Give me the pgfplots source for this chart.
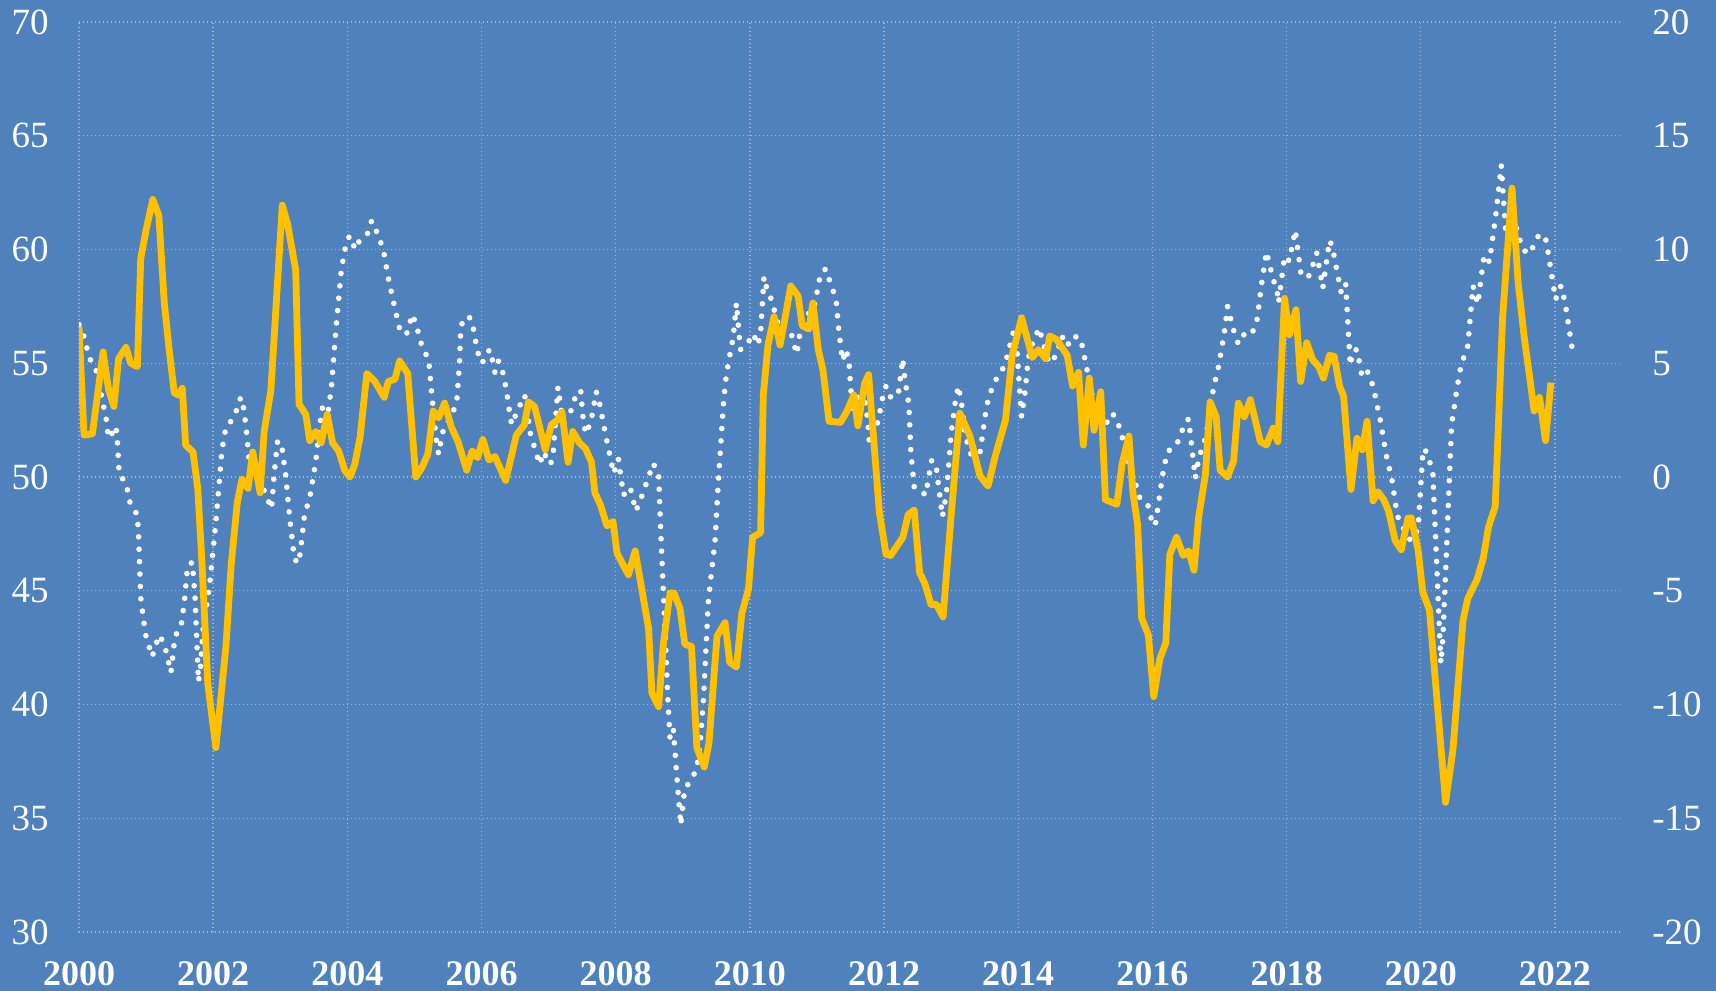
\documentclass[border=0pt]{standalone}
\usepackage{fontspec}
\setmainfont{Liberation Serif}
\usepackage{pgfplots}
\pgfplotsset{compat=1.18}
\usepackage{pgfplotstable}
\definecolor{bgblue}{RGB}{79,129,189}
\definecolor{gold}{RGB}{255,192,0}
\definecolor{gridc}{RGB}{175,180,192}

\pgfplotstableread{
x y
2000.00 56.7
2000.07 56.2
2000.16 55.2
2000.25 54.75
2000.32 53.8
2000.35 53.3
2000.40 52.7
2000.43 51.95
2000.47 51.7
2000.52 52.2
2000.55 52.2
2000.57 51.7
2000.60 50.1
2000.70 49.75
2000.77 48.75
2000.87 48.35
2000.89 47.3
2000.92 44.7
2000.99 43.1
2001.09 42.1
2001.14 42.55
2001.19 43.05
2001.27 42.7
2001.37 41.4
2001.39 41.9
2001.43 43.0
2001.52 43.4
2001.57 44.5
2001.62 46.1
2001.69 46.25
2001.73 44.7
2001.78 41.0
2001.81 41.6
2001.85 43.3
2001.95 45.35
2002.04 48.0
2002.13 51.15
2002.19 52.2
2002.28 52.5
2002.35 52.95
2002.41 53.5
2002.44 53.3
2002.49 52.2
2002.54 50.6
2002.64 50.0
2002.76 49.4
2002.87 48.6
2002.91 50.15
2002.96 51.6
2003.03 51.2
2003.08 50.1
2003.13 48.5
2003.21 46.4
2003.27 46.2
2003.30 46.7
2003.36 48.3
2003.44 49.1
2003.53 50.7
2003.59 52.3
2003.63 53.05
2003.71 52.8
2003.76 53.85
2003.83 56.5
2003.91 59.1
2003.97 60.1
2004.03 60.6
2004.12 60.0
2004.19 60.45
2004.30 60.7
2004.36 61.25
2004.41 61.1
2004.45 60.6
2004.53 60.1
2004.62 58.6
2004.74 57.0
2004.78 56.5
2004.88 56.25
2004.97 57.15
2005.03 56.65
2005.12 55.65
2005.21 55.2
2005.26 53.6
2005.33 51.5
2005.36 51.0
2005.40 51.65
2005.44 52.2
2005.55 52.65
2005.63 53.3
2005.67 54.9
2005.69 56.5
2005.73 57.0
2005.83 57.0
2005.88 56.5
2005.94 55.5
2006.01 55.0
2006.09 55.5
2006.13 55.6
2006.20 54.6
2006.25 55.1
2006.30 54.85
2006.37 53.85
2006.42 52.8
2006.45 52.3
2006.52 52.8
2006.64 53.6
2006.67 53.3
2006.72 52.0
2006.82 51.0
2006.87 50.55
2006.92 51.1
2007.03 50.55
2007.07 51.1
2007.12 53.2
2007.14 53.95
2007.19 52.9
2007.32 52.8
2007.43 53.8
2007.48 53.75
2007.51 52.7
2007.55 51.9
2007.63 52.4
2007.71 53.75
2007.76 53.25
2007.86 51.7
2007.91 51.0
2007.97 50.15
2008.04 50.8
2008.09 49.75
2008.12 49.2
2008.16 49.5
2008.22 49.5
2008.30 48.5
2008.37 49.0
2008.49 50.0
2008.56 50.6
2008.64 50.1
2008.68 47.0
2008.72 44.3
2008.78 40.1
2008.81 38.5
2008.86 38.9
2008.92 36.5
2008.97 34.7
2009.01 35.8
2009.03 36.3
2009.13 36.7
2009.21 37.2
2009.26 38.3
2009.31 40.3
2009.38 44.5
2009.42 45.6
2009.48 47.15
2009.53 49.8
2009.61 53.4
2009.65 54.5
2009.71 55.5
2009.75 56.1
2009.80 57.65
2009.83 56.6
2009.86 55.6
2009.95 55.8
2010.05 56.3
2010.12 55.8
2010.16 56.3
2010.21 58.8
2010.25 58.3
2010.32 57.8
2010.39 57.05
2010.45 56.4
2010.61 56.4
2010.65 55.9
2010.70 55.4
2010.74 56.2
2010.82 56.65
2010.88 57.2
2010.94 57.25
2011.02 58.4
2011.05 58.9
2011.13 59.15
2011.18 58.7
2011.24 58.2
2011.29 57.65
2011.32 56.6
2011.38 55.1
2011.44 55.6
2011.48 54.9
2011.53 52.85
2011.60 53.5
2011.71 53.5
2011.76 52.4
2011.78 51.5
2011.85 51.9
2011.91 52.45
2011.98 53.5
2012.03 54.0
2012.10 53.5
2012.21 53.6
2012.28 55.2
2012.31 54.3
2012.37 53.2
2012.40 51.1
2012.45 49.55
2012.55 49.4
2012.62 49.2
2012.71 50.75
2012.78 50.4
2012.87 48.25
2012.93 49.3
2013.00 51.9
2013.07 53.5
2013.11 54.0
2013.17 52.95
2013.20 51.9
2013.30 50.95
2013.43 51.05
2013.53 53.15
2013.63 54.1
2013.80 54.9
2013.93 56.4
2013.98 55.6
2014.05 52.65
2014.10 53.7
2014.15 55.2
2014.21 55.85
2014.31 56.55
2014.46 55.0
2014.57 55.35
2014.65 56.2
2014.73 55.75
2014.81 56.2
2014.93 56.1
2015.00 55.1
2015.10 53.6
2015.20 52.6
2015.30 52.3
2015.40 52.8
2015.47 52.55
2015.57 51.55
2015.66 50.5
2015.76 49.6
2015.81 49.1
2015.93 48.8
2016.01 47.85
2016.05 48.0
2016.15 50.05
2016.22 51.1
2016.36 51.4
2016.49 52.4
2016.54 52.55
2016.64 49.95
2016.69 50.8
2016.80 51.8
2016.91 53.9
2016.99 54.9
2017.08 56.5
2017.12 57.5
2017.22 56.35
2017.28 55.85
2017.36 56.25
2017.46 56.2
2017.55 56.7
2017.64 58.75
2017.70 59.9
2017.80 58.7
2017.86 58.15
2017.88 57.65
2017.97 59.7
2018.04 59.5
2018.13 60.85
2018.22 58.8
2018.34 58.85
2018.45 59.85
2018.54 58.3
2018.64 60.4
2018.68 60.15
2018.81 58.15
2018.88 58.55
2018.95 54.9
2018.99 55.55
2019.05 55.6
2019.12 54.5
2019.19 54.75
2019.29 54.0
2019.40 52.45
2019.49 50.9
2019.57 49.9
2019.65 48.3
2019.75 47.7
2019.85 47.2
2019.96 47.7
2020.03 51.0
2020.06 51.25
2020.13 50.7
2020.18 50.2
2020.30 41.8
2020.33 42.9
2020.46 52.3
2020.54 53.9
2020.60 54.9
2020.70 55.75
2020.78 58.4
2020.85 57.6
2020.94 59.65
2020.98 59.75
2021.02 59.45
2021.05 60.0
2021.12 61.55
2021.20 63.7
2021.27 60.6
2021.35 61.0
2021.42 61.0
2021.52 60.0
2021.62 59.8
2021.77 60.7
2021.87 60.4
2022.01 57.8
2022.09 58.4
2022.15 57.7
2022.26 55.6
}\whitedata

\pgfplotstableread{
x y
2000.00 6.6
2000.075 1.84
2000.20 1.9
2000.36 5.5
2000.44 3.85
2000.52 3.1
2000.59 5.2
2000.70 5.7
2000.77 5.0
2000.87 4.85
2000.92 9.6
2001.00 10.86
2001.10 12.2
2001.19 11.5
2001.27 7.7
2001.34 5.7
2001.42 3.7
2001.48 3.6
2001.54 3.9
2001.59 1.4
2001.70 1.1
2001.77 -0.5
2001.83 -3.6
2001.92 -9.1
2002.04 -11.9
2002.19 -7.45
2002.27 -3.8
2002.36 -1.1
2002.43 -0.1
2002.52 -0.5
2002.59 1.1
2002.70 -0.7
2002.76 2.0
2002.86 3.8
2003.03 11.95
2003.11 11.1
2003.23 9.1
2003.28 3.2
2003.38 2.75
2003.44 1.6
2003.53 2.0
2003.61 1.5
2003.70 2.75
2003.78 1.5
2003.87 1.15
2003.96 0.3
2004.04 0.0
2004.11 0.55
2004.19 1.75
2004.29 4.55
2004.41 4.2
2004.55 3.5
2004.61 4.2
2004.71 4.3
2004.78 5.1
2004.90 4.55
2005.02 0.0
2005.11 0.4
2005.20 1.0
2005.28 2.9
2005.36 2.6
2005.45 3.25
2005.55 2.2
2005.65 1.55
2005.78 0.3
2005.86 1.15
2005.94 0.85
2006.02 1.65
2006.11 0.75
2006.20 0.9
2006.36 -0.15
2006.52 1.85
2006.64 2.3
2006.70 3.3
2006.79 3.1
2006.95 1.2
2007.04 2.3
2007.13 2.5
2007.20 2.85
2007.29 0.65
2007.36 2.0
2007.46 1.5
2007.55 1.25
2007.64 0.65
2007.69 -0.7
2007.77 -1.2
2007.87 -2.15
2007.96 -1.95
2008.02 -3.35
2008.19 -4.3
2008.29 -3.25
2008.49 -6.65
2008.54 -9.5
2008.64 -10.1
2008.71 -7.35
2008.81 -5.1
2008.87 -5.1
2008.96 -5.8
2009.03 -7.35
2009.13 -7.45
2009.21 -11.9
2009.32 -12.75
2009.39 -11.7
2009.51 -7.0
2009.63 -6.4
2009.70 -8.15
2009.80 -8.35
2009.88 -6.0
2009.98 -4.9
2010.04 -2.65
2010.16 -2.45
2010.20 3.6
2010.27 5.8
2010.36 7.05
2010.45 5.8
2010.51 6.75
2010.61 8.4
2010.72 7.95
2010.78 6.65
2010.88 6.5
2010.94 7.65
2011.02 5.6
2011.09 4.7
2011.18 2.45
2011.35 2.4
2011.44 2.85
2011.55 3.6
2011.61 2.25
2011.71 4.1
2011.77 4.5
2011.93 -1.55
2012.03 -3.4
2012.10 -3.45
2012.28 -2.65
2012.36 -1.65
2012.45 -1.45
2012.53 -4.2
2012.61 -4.7
2012.70 -5.6
2012.78 -5.6
2012.88 -6.15
2013.00 -1.7
2013.13 2.8
2013.28 1.8
2013.43 0.05
2013.55 -0.4
2013.66 0.95
2013.81 2.5
2013.91 5.35
2014.05 7.0
2014.21 5.25
2014.30 5.6
2014.41 5.2
2014.47 6.2
2014.57 6.05
2014.73 5.35
2014.81 4.0
2014.90 4.6
2014.97 1.4
2015.06 4.35
2015.13 2.05
2015.23 3.75
2015.30 -1.0
2015.47 -1.2
2015.55 0.6
2015.65 1.8
2015.71 -0.7
2015.78 -2.1
2015.84 -6.2
2015.94 -6.95
2016.02 -9.65
2016.11 -8.0
2016.20 -7.3
2016.26 -3.4
2016.36 -2.65
2016.46 -3.45
2016.54 -3.25
2016.62 -4.1
2016.69 -1.75
2016.79 0.1
2016.86 3.3
2016.95 2.65
2017.01 0.3
2017.12 0.0
2017.21 0.7
2017.28 3.25
2017.37 2.65
2017.46 3.4
2017.61 1.55
2017.70 1.4
2017.80 2.15
2017.87 1.55
2017.97 7.85
2018.04 6.25
2018.14 7.35
2018.21 4.2
2018.30 5.9
2018.39 5.15
2018.48 4.85
2018.55 4.35
2018.64 5.35
2018.71 5.3
2018.79 4.0
2018.85 3.55
2018.96 -0.55
2019.05 1.7
2019.13 1.2
2019.20 2.45
2019.29 -1.05
2019.36 -0.65
2019.45 -1.0
2019.52 -1.5
2019.62 -2.8
2019.71 -3.2
2019.81 -1.8
2019.86 -1.8
2019.96 -3.2
2020.03 -5.05
2020.13 -5.85
2020.37 -14.3
2020.48 -12.0
2020.63 -6.3
2020.70 -5.35
2020.84 -4.5
2020.93 -3.6
2021.01 -2.2
2021.11 -1.3
2021.22 7.0
2021.36 12.7
2021.45 8.6
2021.54 6.2
2021.63 4.25
2021.69 2.9
2021.77 3.5
2021.86 1.6
2021.94 4.15
}\orangedata

\begin{document}
\begin{tikzpicture}
\fill[bgblue] (0,0) rectangle (858bp,495.5bp);
\begin{axis}[
  at={(39.5bp,29.5bp)}, anchor=south west,
  width=771.5bp, height=455bp, scale only axis,
  xmin=2000, xmax=2023, ymin=30, ymax=70,
  xtick={2000,2002,...,2022}, ytick={30,35,...,70},
  grid=major,
  grid style={gridc, line width=0.7bp, dash pattern=on 0.7bp off 1.3bp},
  axis line style={draw=none},
  major tick length=0pt,
  /pgf/number format/assume math mode=true,
  /pgf/number format/1000 sep={},
  xticklabel style={inner sep=0pt, yshift=-14.5bp, text=white, font=\bfseries\fontsize{18bp}{20bp}\selectfont},
  yticklabel style={inner sep=0pt, xshift=-15bp, text=white, font=\fontsize{18.5bp}{20bp}\selectfont},
]
\addplot[white, line width=2.8bp, line cap=round, dash pattern=on 0bp off 6.2bp] table {\whitedata};
\end{axis}
\begin{axis}[
  at={(39.5bp,29.5bp)}, anchor=south west,
  width=771.5bp, height=455bp, scale only axis,
  xmin=2000, xmax=2023, ymin=-20, ymax=20,
  axis y line*=right, axis x line=none,
  ytick={-20,-15,...,20},
  axis line style={draw=none},
  major tick length=0pt,
  /pgf/number format/assume math mode=true,
  yticklabel style={inner sep=0pt, xshift=15bp, text=white, font=\fontsize{18.5bp}{20bp}\selectfont},
]
\addplot[gold, line width=3.4bp, line join=round] table {\orangedata};
\end{axis}
\pgfresetboundingbox
\path[use as bounding box] (0,0) rectangle (858bp,495.5bp);
\end{tikzpicture}
\end{document}
